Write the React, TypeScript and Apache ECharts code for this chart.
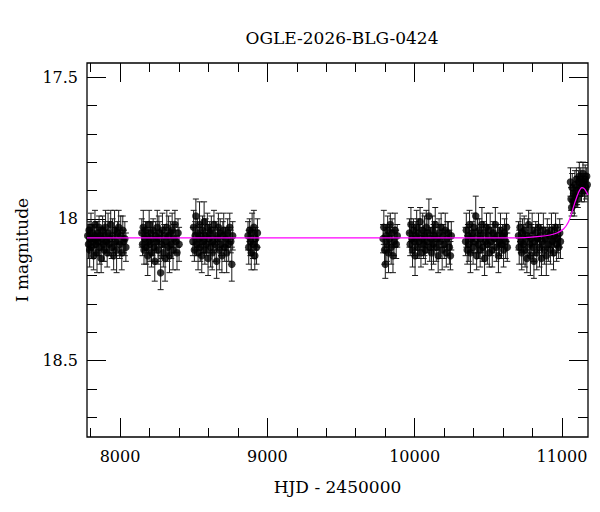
import { useEffect, useRef } from "react";
import * as echarts from "echarts";

// [HJD - 2450000, I mag, error]
type Obs = [number, number, number];

const chartTitle = "OGLE-2026-BLG-0424";
const xName = "HJD - 2450000";
const yName = "I magnitude";

const hjdRange = [7776, 11177];
const magRange = [17.45, 18.77];

const xMajorTicks = [8000, 9000, 10000, 11000];
const xMinorTicks = [7800, 8200, 8400, 8600, 8800, 9200, 9400, 9600, 9800, 10200, 10400, 10600, 10800];
const yMajorTicks = [17.5, 18, 18.5];
const yMinorTicks = [17.6, 17.7, 17.8, 17.9, 18.1, 18.2, 18.3, 18.4, 18.6, 18.7];

const season1: Obs[] = [
	[7781, 18.06, 0.04], [7786, 18.09, 0.05], [7790, 18.04, 0.03], [7794, 18.11, 0.06], [7799, 18.07, 0.04],
	[7803, 18.03, 0.05], [7808, 18.1, 0.04], [7812, 18.05, 0.03], [7817, 18.08, 0.06], [7821, 18.13, 0.05],
	[7826, 18.06, 0.04], [7830, 18.02, 0.05], [7835, 18.09, 0.03], [7839, 18.07, 0.06], [7844, 18.12, 0.07],
	[7849, 18.05, 0.04], [7853, 18.08, 0.05], [7858, 18.03, 0.04], [7863, 18.1, 0.06], [7867, 18.06, 0.03],
	[7872, 18.14, 0.05], [7877, 18.07, 0.04], [7882, 18.04, 0.05], [7887, 18.09, 0.06], [7892, 18.11, 0.04],
	[7897, 18.06, 0.05], [7902, 18.03, 0.06], [7908, 18.08, 0.04], [7913, 18.12, 0.05], [7919, 18.05, 0.07],
	[7925, 18.09, 0.04], [7931, 18.07, 0.06], [7937, 18.02, 0.05], [7944, 18.1, 0.04], [7950, 18.06, 0.06],
	[7957, 18.13, 0.05], [7963, 18.04, 0.07], [7970, 18.08, 0.05], [7977, 18.11, 0.08], [7984, 18.05, 0.04],
	[7991, 18.03, 0.06], [7998, 18.09, 0.05], [8005, 18.06, 0.07], [8012, 18.12, 0.06], [8019, 18.04, 0.05],
	[8026, 18.08, 0.04], [8033, 18.07, 0.06], [8040, 18.1, 0.05]
];

const season2: Obs[] = [
	[8148, 18.05, 0.05], [8153, 18.09, 0.04], [8158, 18.03, 0.06], [8163, 18.11, 0.05], [8168, 18.07, 0.04],
	[8173, 18.04, 0.03], [8178, 18.1, 0.06], [8183, 18.06, 0.05], [8188, 18.13, 0.07], [8193, 18.08, 0.04],
	[8198, 18.02, 0.05], [8204, 18.09, 0.06], [8209, 18.05, 0.04], [8214, 18.12, 0.05], [8220, 18.07, 0.06],
	[8225, 18.04, 0.04], [8231, 18.1, 0.05], [8236, 18.15, 0.07], [8242, 18.06, 0.05], [8247, 18.08, 0.04],
	[8253, 18.03, 0.06], [8258, 18.11, 0.05], [8264, 18.07, 0.08], [8270, 18.05, 0.04], [8276, 18.19, 0.06],
	[8282, 18.09, 0.05], [8288, 18.04, 0.06], [8294, 18.12, 0.05], [8300, 18.06, 0.04], [8306, 18.14, 0.08],
	[8312, 18.08, 0.05], [8318, 18.03, 0.06], [8324, 18.1, 0.05], [8330, 18.06, 0.07], [8336, 18.13, 0.06],
	[8342, 18.05, 0.04], [8348, 18.09, 0.05], [8354, 18.04, 0.06], [8360, 18.11, 0.07], [8366, 18.07, 0.05],
	[8373, 18.02, 0.05], [8380, 18.08, 0.04], [8387, 18.12, 0.06], [8394, 18.05, 0.05], [8401, 18.09, 0.06]
];

const season3: Obs[] = [
	[8495, 18.08, 0.05], [8500, 18.03, 0.06], [8505, 18.11, 0.04], [8510, 18.06, 0.05], [8515, 17.99, 0.06],
	[8520, 18.09, 0.04], [8525, 18.05, 0.05], [8530, 18.12, 0.06], [8535, 18.07, 0.04], [8540, 18.02, 0.08],
	[8545, 18.1, 0.05], [8550, 18.06, 0.04], [8555, 18.13, 0.06], [8560, 18.04, 0.05], [8566, 18.08, 0.04],
	[8571, 18.01, 0.07], [8576, 18.11, 0.05], [8582, 18.06, 0.06], [8587, 18.09, 0.04], [8593, 18.03, 0.05],
	[8598, 18.14, 0.06], [8604, 18.07, 0.05], [8609, 18.05, 0.04], [8615, 18.1, 0.07], [8620, 18.04, 0.05],
	[8626, 18.12, 0.06], [8632, 18.08, 0.04], [8638, 18.02, 0.05], [8644, 18.09, 0.06], [8650, 18.06, 0.05],
	[8656, 18.15, 0.06], [8662, 18.07, 0.04], [8668, 18.03, 0.05], [8674, 18.11, 0.07], [8680, 18.05, 0.05],
	[8686, 18.09, 0.04], [8692, 18.13, 0.06], [8698, 18.06, 0.05], [8704, 18.04, 0.06], [8711, 18.1, 0.05],
	[8717, 18.07, 0.04], [8724, 18.12, 0.07], [8731, 18.05, 0.05], [8738, 18.09, 0.06], [8745, 18.03, 0.05],
	[8752, 18.08, 0.04], [8759, 18.16, 0.06], [8765, 18.06, 0.05]
];

const season4: Obs[] = [
	[8869, 18.06, 0.05], [8874, 18.1, 0.06], [8880, 18.04, 0.04], [8885, 18.08, 0.05], [8891, 18.12, 0.06],
	[8897, 18.05, 0.07], [8903, 18.09, 0.05], [8909, 18.03, 0.06], [8915, 18.13, 0.05], [8921, 18.07, 0.04],
	[8927, 18.1, 0.06], [8933, 18.05, 0.05]
];

const season5: Obs[] = [
	[9786, 18.07, 0.05], [9791, 18.03, 0.06], [9796, 18.11, 0.05], [9801, 18.16, 0.05], [9806, 18.06, 0.04],
	[9812, 18.09, 0.06], [9817, 18.04, 0.05], [9823, 18.12, 0.07], [9829, 18.07, 0.05], [9835, 18.02, 0.04],
	[9841, 18.1, 0.06], [9847, 18.05, 0.05], [9853, 18.13, 0.06], [9860, 18.08, 0.05], [9867, 18.04, 0.06],
	[9875, 18.09, 0.05], [9882, 18.06, 0.04]
];

const season6: Obs[] = [
	[9965, 18.05, 0.05], [9970, 18.09, 0.04], [9975, 18.02, 0.06], [9981, 18.07, 0.05], [9986, 18.11, 0.06],
	[9992, 18.04, 0.04], [9997, 18.08, 0.05], [10003, 18.13, 0.07], [10008, 18.06, 0.05], [10014, 18.03, 0.06],
	[10020, 18.1, 0.04], [10025, 18.05, 0.05], [10031, 18.08, 0.06], [10037, 18.01, 0.05], [10043, 18.12, 0.05],
	[10049, 18.07, 0.04], [10055, 18.04, 0.06], [10061, 18.09, 0.05], [10067, 18.06, 0.07], [10073, 18.11, 0.05],
	[10079, 18.03, 0.06], [10085, 18.08, 0.04], [10091, 18.05, 0.05], [10097, 17.99, 0.06], [10103, 18.1, 0.05],
	[10109, 18.07, 0.04], [10115, 18.12, 0.06], [10121, 18.04, 0.05], [10128, 18.09, 0.07], [10134, 18.06, 0.05],
	[10140, 18.02, 0.06], [10147, 18.1, 0.05], [10153, 18.07, 0.04], [10160, 18.13, 0.06], [10166, 18.05, 0.05],
	[10173, 18.08, 0.06], [10180, 18.03, 0.05], [10187, 18.11, 0.07], [10194, 18.06, 0.04], [10201, 18.09, 0.05],
	[10208, 18.04, 0.06], [10215, 18.12, 0.05], [10222, 18.07, 0.06], [10229, 18.05, 0.04], [10236, 18.1, 0.06],
	[10243, 18.13, 0.05], [10249, 18.06, 0.05]
];

const season7: Obs[] = [
	[10346, 18.08, 0.05], [10351, 18.04, 0.06], [10357, 18.11, 0.05], [10362, 18.06, 0.04], [10368, 18.09, 0.06],
	[10373, 18.02, 0.05], [10379, 18.12, 0.07], [10385, 18.07, 0.05], [10391, 18.05, 0.04], [10397, 18.1, 0.06],
	[10403, 18.03, 0.05], [10409, 18.08, 0.04], [10415, 17.99, 0.07], [10421, 18.13, 0.05], [10427, 18.06, 0.06],
	[10433, 18.09, 0.05], [10439, 18.04, 0.04], [10445, 18.11, 0.06], [10451, 18.07, 0.05], [10457, 18.02, 0.06],
	[10463, 18.1, 0.05], [10469, 18.05, 0.04], [10475, 18.14, 0.06], [10481, 18.08, 0.05], [10488, 18.03, 0.05],
	[10494, 18.09, 0.07], [10500, 18.06, 0.04], [10507, 18.12, 0.05], [10513, 18.04, 0.06], [10520, 18.08, 0.05],
	[10527, 18.11, 0.06], [10534, 18.05, 0.04], [10541, 18.07, 0.05], [10548, 18.02, 0.06], [10555, 18.1, 0.05],
	[10562, 18.06, 0.04], [10569, 18.13, 0.06], [10576, 18.08, 0.05], [10583, 18.04, 0.06], [10590, 18.09, 0.05],
	[10597, 18.06, 0.04], [10604, 18.11, 0.06], [10611, 18.05, 0.05], [10618, 18.08, 0.06], [10624, 18.03, 0.05],
	[10629, 18.1, 0.05]
];

const season8: Obs[] = [
	[10705, 18.06, 0.05], [10710, 18.1, 0.06], [10716, 18.03, 0.05], [10721, 18.08, 0.04], [10727, 18.12, 0.06],
	[10732, 18.05, 0.05], [10738, 18.09, 0.07], [10744, 18.04, 0.05], [10750, 18.11, 0.06], [10756, 18.07, 0.04],
	[10762, 18.14, 0.05], [10768, 18.06, 0.06], [10774, 18.02, 0.05], [10780, 18.09, 0.04], [10786, 18.13, 0.07],
	[10792, 18.07, 0.05], [10798, 18.04, 0.06], [10804, 18.1, 0.05], [10810, 18.15, 0.06], [10816, 18.08, 0.05],
	[10822, 18.05, 0.04], [10829, 18.12, 0.06], [10835, 18.07, 0.05], [10841, 18.03, 0.05], [10848, 18.1, 0.07],
	[10854, 18.06, 0.04], [10861, 18.14, 0.06], [10867, 18.08, 0.05], [10874, 18.04, 0.06], [10881, 18.11, 0.05],
	[10887, 18.07, 0.04], [10894, 18.13, 0.07], [10901, 18.05, 0.05], [10908, 18.09, 0.06], [10915, 18.06, 0.04],
	[10922, 18.11, 0.05], [10929, 18.04, 0.06], [10936, 18.08, 0.05], [10943, 18.12, 0.06], [10950, 18.06, 0.04],
	[10957, 18.03, 0.05], [10964, 18.09, 0.06], [10971, 18.07, 0.05], [10978, 18.1, 0.04], [10985, 18.05, 0.05],
	[10990, 18.08, 0.06]
];

const season9: Obs[] = [
	[11058, 17.87, 0.05], [11062, 17.93, 0.04], [11066, 17.96, 0.03], [11070, 17.89, 0.05], [11075, 17.94, 0.04],
	[11079, 17.91, 0.03], [11084, 17.95, 0.04], [11088, 17.88, 0.05], [11093, 17.92, 0.03], [11098, 17.86, 0.04],
	[11103, 17.9, 0.05], [11108, 17.93, 0.03], [11113, 17.87, 0.04], [11118, 17.85, 0.05], [11123, 17.89, 0.03],
	[11128, 17.86, 0.04], [11133, 17.91, 0.03], [11138, 17.88, 0.04], [11143, 17.84, 0.04], [11148, 17.87, 0.03],
	[11153, 17.9, 0.04], [11158, 17.86, 0.05], [11163, 17.89, 0.04], [11168, 17.85, 0.03], [11172, 17.88, 0.04]
];

// microlensing model fit
const modelCurve: [number, number][] = [
	[7776, 18.067], [9000, 18.067], [10000, 18.067], [10600, 18.067], [10750, 18.066], [10850, 18.062],
	[10920, 18.057], [10966, 18.05], [11011, 18.036], [11045, 18.01], [11068, 17.976], [11090, 17.939],
	[11113, 17.906], [11127, 17.893], [11136, 17.89], [11148, 17.892], [11158, 17.898], [11177, 17.916]
];

const observations = [season1, season2, season3, season4, season5, season6, season7, season8, season9].flat();

const fontFamily = "DejaVu Serif";
const plainNumber = (v: number) => String(v);

function makeXAxis(position: "top" | "bottom", ticks: number[], length: number, withLabels: boolean) {
	return {
		type: "value",
		position,
		min: hjdRange[0],
		max: hjdRange[1],
		axisLine: { show: false, onZero: false },
		splitLine: { show: false },
		axisTick: { show: true, inside: true, length, customValues: ticks, lineStyle: { color: "#000", width: 1 } },
		axisLabel: withLabels
			? { show: true, customValues: ticks, margin: 11, color: "#000", fontFamily, fontSize: 16, formatter: plainNumber }
			: { show: false }
	};
}

function makeYAxis(position: "left" | "right", ticks: number[], length: number, withLabels: boolean) {
	return {
		type: "value",
		position,
		inverse: true,
		min: magRange[0],
		max: magRange[1],
		axisLine: { show: false, onZero: false },
		splitLine: { show: false },
		axisTick: { show: true, inside: true, length, customValues: ticks, lineStyle: { color: "#000", width: 1 } },
		axisLabel: withLabels
			? { show: true, customValues: ticks, margin: 9, color: "#000", fontFamily, fontSize: 16, formatter: plainNumber }
			: { show: false }
	};
}

export default function App() {
	const chartRef = useRef<HTMLDivElement>(null);

	useEffect(() => {
		if (!chartRef.current) return;
		const chart = echarts.init(chartRef.current, null, { renderer: "svg" });

		const bottomAxis = {
			...makeXAxis("bottom", xMajorTicks, 19, true),
			name: xName,
			nameLocation: "middle",
			nameGap: 41,
			nameTextStyle: { color: "#000", fontFamily, fontSize: 17 }
		};
		const leftAxis = {
			...makeYAxis("left", yMajorTicks, 19, true),
			name: yName,
			nameLocation: "middle",
			nameGap: 57,
			nameTextStyle: { color: "#000", fontFamily, fontSize: 17 }
		};

		chart.setOption({
			animation: false,
			backgroundColor: "#fff",
			title: {
				text: chartTitle,
				left: 337,
				top: 24,
				textAlign: "center",
				textStyle: { color: "#000", fontFamily, fontSize: 17, fontWeight: "normal" }
			},
			grid: {
				left: 87,
				right: 12,
				top: 63,
				bottom: 75,
				show: true,
				borderColor: "#000",
				borderWidth: 1.3,
				backgroundColor: "transparent"
			},
			xAxis: [
				bottomAxis,
				makeXAxis("bottom", xMinorTicks, 9, false),
				makeXAxis("top", xMajorTicks, 19, false),
				makeXAxis("top", xMinorTicks, 9, false)
			],
			yAxis: [
				leftAxis,
				makeYAxis("left", yMinorTicks, 10, false),
				makeYAxis("right", yMajorTicks, 19, false),
				makeYAxis("right", yMinorTicks, 10, false)
			],
			series: [
				{
					type: "custom",
					xAxisIndex: 0,
					yAxisIndex: 0,
					clip: true,
					z: 2,
					data: observations.map(([t, m, e]) => [t, m - e, m + e]),
					encode: { x: 0, y: [1, 2] },
					renderItem: (_params: unknown, api: any) => {
						const t = api.value(0);
						const top = api.coord([t, api.value(1)]);
						const bot = api.coord([t, api.value(2)]);
						const cap = 3;
						const style = { stroke: "#1a1a1a", lineWidth: 1 };
						return {
							type: "group",
							children: [
								{ type: "line", shape: { x1: top[0], y1: top[1], x2: bot[0], y2: bot[1] }, style },
								{ type: "line", shape: { x1: top[0] - cap, y1: top[1], x2: top[0] + cap, y2: top[1] }, style },
								{ type: "line", shape: { x1: bot[0] - cap, y1: bot[1], x2: bot[0] + cap, y2: bot[1] }, style }
							]
						};
					}
				},
				{
					type: "scatter",
					xAxisIndex: 0,
					yAxisIndex: 0,
					z: 3,
					symbol: "circle",
					symbolSize: 7.5,
					itemStyle: { color: "#000" },
					data: observations.map(([t, m]) => [t, m])
				},
				{
					type: "line",
					xAxisIndex: 0,
					yAxisIndex: 0,
					z: 4,
					showSymbol: false,
					smooth: 0.3,
					lineStyle: { color: "#ff00ff", width: 1.2 },
					data: modelCurve
				}
			]
		});

		return () => chart.dispose();
	}, []);

	return (
		<div
			ref={chartRef}
			style={{ position: "fixed", left: 0, top: 0, width: 600, height: 512 }}
		/>
	);
}
